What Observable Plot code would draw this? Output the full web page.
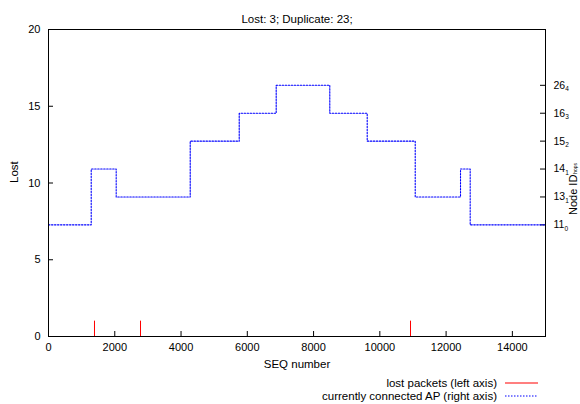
<!DOCTYPE html>
<html>
<head>
<meta charset="utf-8">
<script src="https://cdn.jsdelivr.net/npm/d3@7"></script>
<script src="https://cdn.jsdelivr.net/npm/@observablehq/plot@0.6"></script>
<style>
  html, body { margin: 0; padding: 0; background: white; }
  #chart { width: 580px; height: 404px; }
</style>
</head>
<body>
<div id="chart"></div>
<script>
// ---- data ----
const titleText = "Lost: 3; Duplicate: 23;";
const xTicks = [0, 2000, 4000, 6000, 8000, 10000, 12000, 14000];
const yTicks = [0, 5, 10, 15, 20];
// lost packets (left axis)
const lostSeq = [1388, 2777, 10926];
const lostCount = [1, 1, 1];
// currently connected AP (right axis): seq where AP changes, index of AP label
const apSeq   = [0, 1289, 2043, 4277, 5756, 6872, 8490, 9619, 11068, 12435, 12727, 15000];
const apIndex = [0, 2, 1, 3, 4, 5, 4, 3, 1, 2, 0, 0];
// right axis labels: node id with hop count subscript
const nodeIds = ["11", "13", "14", "15", "16", "26"];
const hops    = ["0", "1", "1", "2", "3", "4"];
const y2Domain = [-4, 7];
const yDomain = [0, 20];

// map right-axis value onto left axis
const toY = v => yDomain[0] + (v - y2Domain[0]) / (y2Domain[1] - y2Domain[0]) * (yDomain[1] - yDomain[0]);

const lost = lostSeq.map((s, i) => ({seq: s, n: lostCount[i]}));
const ap = apSeq.map((s, i) => ({seq: s, y: toY(apIndex[i])}));
const y2Ticks = nodeIds.map((d, i) => ({v: toY(i), label: d + "_" + hops[i]}));

const W = 580, H = 404, mT = 29, mB = 68, mL = 48, mR = 35;
const innerW = W - mL - mR, innerH = H - mT - mB;
const tickLen = 5;

const chart = Plot.plot({
  width: W, height: H,
  marginTop: mT, marginBottom: mB, marginLeft: mL, marginRight: mR,
  style: {fontFamily: "'Liberation Sans', Arial, sans-serif", fontSize: "11px", background: "white", color: "black", overflow: "visible"},
  x: {domain: [0, 15000]},
  y: {domain: yDomain},
  marks: [
    Plot.axisX({ticks: xTicks, tickSize: 0, tickPadding: 7, label: null, tickFormat: d => String(d)}),
    Plot.axisY({ticks: yTicks, tickSize: 0, tickPadding: 8, label: null}),
    Plot.axisY({anchor: "right", ticks: y2Ticks.map(d => d.v), tickSize: 0, tickPadding: 8, label: null, fontSize: 10.5,
      tickFormat: v => { const t = y2Ticks.find(d => Math.abs(d.v - v) < 1e-9); return t ? t.label : ""; }}),
    // inward ticks
    Plot.tickX(xTicks, {x: d => d, insetTop: innerH - tickLen, stroke: "black"}),
    Plot.tickY(yTicks, {y: d => d, insetRight: innerW - tickLen, stroke: "black"}),
    Plot.tickY(y2Ticks, {y: "v", insetLeft: innerW - tickLen, stroke: "black"}),
    // data
    Plot.ruleX(lost, {x: "seq", y1: 0, y2: "n", stroke: "#ff0000", strokeWidth: 1}),
    Plot.line(ap, {x: "seq", y: "y", curve: "step-after", stroke: "#0000ff", strokeWidth: 1.1, strokeDasharray: "1.5,1.5"}),
    Plot.frame({stroke: "black", strokeWidth: 1}),
    // title and axis labels
    Plot.text([titleText], {text: d => d, frameAnchor: "top", dy: -15, fontSize: 11.5}),
    Plot.text(["SEQ number"], {text: d => d, frameAnchor: "bottom", dy: 31, fontSize: 11.5}),
    Plot.text(["Lost"], {text: d => d, frameAnchor: "left", dx: -34, rotate: -90, fontSize: 11.5})
  ]
});
document.getElementById("chart").appendChild(chart);

const svg = d3.select(chart);
// subscripts on right-axis labels
svg.selectAll("text").each(function() {
  const el = d3.select(this);
  if (this.querySelector("tspan")) return;
  const t = this.textContent;
  if (t.includes("_")) {
    const [a, b] = t.split("_");
    el.text(null);
    el.append("tspan").text(a);
    el.append("tspan").attr("dy", "0.35em").attr("font-size", "0.62em").text(b);
  }
});

// right axis label "Node ID_hops"
const rl = svg.append("text")
  .attr("transform", `translate(${W - 3.5},215) rotate(-90)`)
  .attr("text-anchor", "start")
  .attr("font-size", "11px")
  .attr("fill", "black");
rl.append("tspan").text("Node ID");
rl.append("tspan").attr("dx", "1").attr("dy", "0.1em").attr("font-size", "0.45em").text("hops");

// legend
const legend = [
  {label: "lost packets (left axis)", stroke: "#ff0000", dash: null},
  {label: "currently connected AP (right axis)", stroke: "#0000ff", dash: "1.5,1.5"}
];
const lg = svg.append("g");
legend.forEach((d, i) => {
  const y = 383 + i * 13;
  lg.append("text").attr("x", 497).attr("y", y).attr("dy", "0.35em")
    .attr("text-anchor", "end").attr("font-size", "11.5px").attr("fill", "black").text(d.label);
  lg.append("line").attr("x1", 505).attr("x2", 538).attr("y1", y).attr("y2", y)
    .attr("stroke", d.stroke).attr("stroke-width", 1.1).attr("stroke-dasharray", d.dash);
});
</script>
</body>
</html>
